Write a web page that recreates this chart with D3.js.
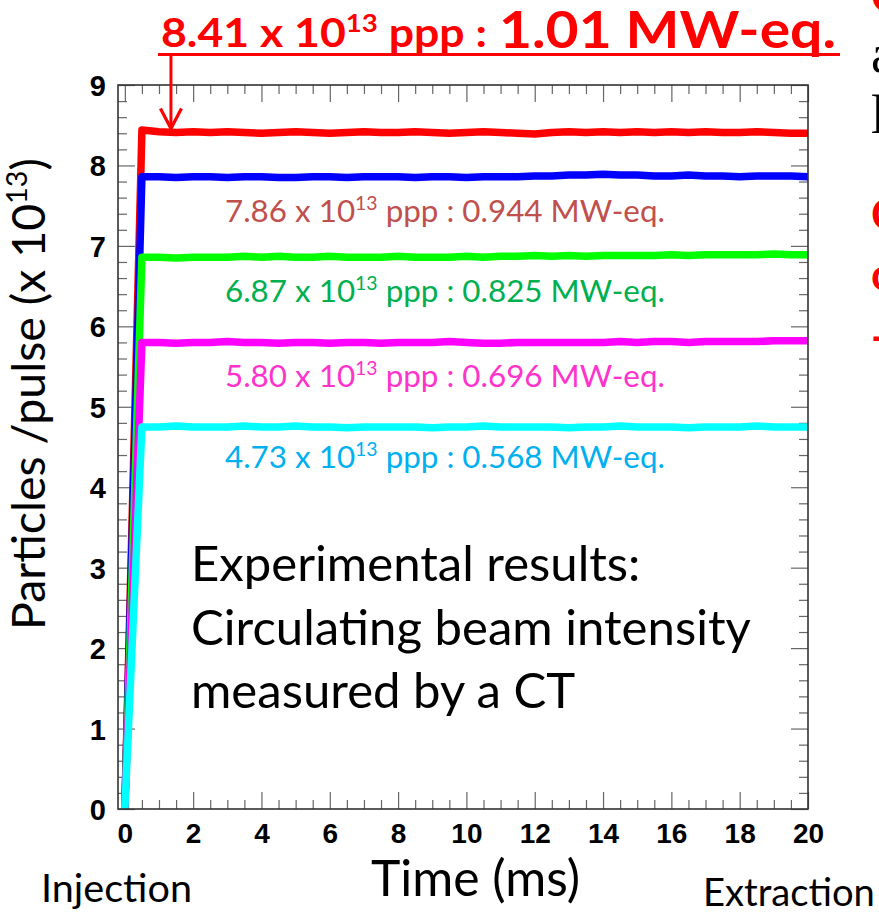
<!DOCTYPE html>
<html>
<head>
<meta charset="utf-8">
<script src="https://cdn.jsdelivr.net/npm/d3@7"></script>
<style>
  html, body { margin: 0; padding: 0; background: #fff; overflow: hidden; }
  svg { display: block; }
</style>
</head>
<body>
<svg id="chart" width="879" height="922"></svg>
<script>
// Circulating beam intensity vs time, one trace per beam power setting
const timeMs = [0, 0.5, 1, 1.5, 2, 2.5, 3, 3.5, 4, 4.5, 5, 5.5, 6, 6.5, 7, 7.5, 8, 8.5, 9, 9.5,
  10, 10.5, 11, 11.5, 12, 12.5, 13, 13.5, 14, 14.5, 15, 15.5, 16, 16.5, 17, 17.5, 18, 18.5, 19, 19.5, 20];

const trace841 = [0, 8.44, 8.42, 8.41, 8.42, 8.41, 8.42, 8.41, 8.40, 8.41,
  8.42, 8.41, 8.40, 8.41, 8.42, 8.41, 8.41, 8.42, 8.41, 8.40,
  8.41, 8.42, 8.41, 8.40, 8.39, 8.41, 8.42, 8.41, 8.42, 8.41,
  8.42, 8.41, 8.42, 8.41, 8.42, 8.41, 8.41, 8.42, 8.41, 8.40, 8.40];
const trace786 = [0, 7.86, 7.86, 7.85, 7.86, 7.86, 7.85, 7.86, 7.86, 7.85,
  7.85, 7.86, 7.86, 7.85, 7.86, 7.86, 7.86, 7.85, 7.86, 7.86,
  7.85, 7.86, 7.86, 7.86, 7.87, 7.87, 7.88, 7.88, 7.89, 7.88,
  7.88, 7.87, 7.87, 7.88, 7.87, 7.87, 7.86, 7.87, 7.87, 7.87, 7.86];
const trace687 = [0, 6.86, 6.86, 6.85, 6.86, 6.86, 6.86, 6.87, 6.86, 6.87,
  6.86, 6.86, 6.87, 6.86, 6.86, 6.86, 6.87, 6.86, 6.86, 6.86,
  6.87, 6.86, 6.87, 6.87, 6.88, 6.87, 6.88, 6.87, 6.88, 6.88,
  6.88, 6.88, 6.89, 6.88, 6.89, 6.89, 6.89, 6.89, 6.90, 6.89, 6.89];
const trace580 = [0, 5.80, 5.80, 5.79, 5.80, 5.80, 5.81, 5.80, 5.80, 5.79,
  5.80, 5.80, 5.79, 5.80, 5.80, 5.79, 5.80, 5.80, 5.80, 5.81,
  5.80, 5.79, 5.79, 5.80, 5.80, 5.80, 5.80, 5.80, 5.80, 5.81,
  5.80, 5.81, 5.81, 5.80, 5.81, 5.81, 5.81, 5.81, 5.82, 5.82, 5.82];
const trace473 = [0, 4.75, 4.75, 4.76, 4.75, 4.75, 4.75, 4.76, 4.75, 4.75,
  4.76, 4.75, 4.75, 4.74, 4.75, 4.75, 4.75, 4.75, 4.74, 4.75,
  4.75, 4.76, 4.75, 4.75, 4.75, 4.75, 4.74, 4.75, 4.75, 4.76,
  4.75, 4.75, 4.75, 4.74, 4.75, 4.75, 4.75, 4.76, 4.75, 4.75, 4.75];

const traceColors = ["#ff0000", "#0000ff", "#00ff00", "#ff00ff", "#00ffff"];
const intensities = ["8.41", "7.86", "6.87", "5.80", "4.73"];
const powers = ["1.01", "0.944", "0.825", "0.696", "0.568"];
const labelColors = ["#ff0000", "#c0504d", "#00b050", "#ff33cc", "#00b0f0"];

const xTicks = [0, 2, 4, 6, 8, 10, 12, 14, 16, 18, 20];
const yTicks = [0, 1, 2, 3, 4, 5, 6, 7, 8, 9];
const noteLines = ["Experimental results:", "Circulating beam intensity", "measured by a CT"];

const svg = d3.select("#chart");
const W = 879, H = 922;
svg.append("rect").attr("width", W).attr("height", H).attr("fill", "#fff");

const plot = { left: 118, right: 808, top: 85, bottom: 809 };
const x = d3.scaleLinear().domain([-0.2, 20]).range([plot.left, plot.right]);
const y = d3.scaleLinear().domain([0, 9]).range([plot.bottom, plot.top]);

const SANS = "Lato, 'Open Sans', sans-serif";
const TICKFONT = "'Liberation Sans', Arial, sans-serif";

// scale a text element's font-size so it spans the given width
function fitWidth(sel, width) {
  const node = sel.node();
  const fs = parseFloat(sel.attr("font-size"));
  const w = node.getComputedTextLength();
  sel.attr("font-size", (fs * width / w).toFixed(2));
}

// value text with superscript exponent: "<v> x 10^13 ppp : "
function addPpp(textSel, value) {
  textSel.append("tspan").text(value + " x 10");
  textSel.append("tspan").style("font-size", "0.62em").attr("dy", "-0.62em").text("13");
  textSel.append("tspan").attr("dy", "0.385em").text(" ppp : ");
}

// ---- axes (ticks inside on all four sides) ----
const xMinor = d3.range(0, 20.001, 0.5).filter(v => v % 2 !== 0);
const yMinor = d3.range(0, 9.001, 0.2).filter(v => Math.abs(v - Math.round(v)) > 1e-6);

function tickGroup(axis, transform) {
  const g = svg.append("g").attr("transform", transform).call(axis);
  g.select(".domain").remove();
  g.selectAll(".tick line").attr("stroke", "#666").attr("stroke-width", 1.2);
  return g;
}

tickGroup(d3.axisBottom(x).tickValues(xMinor).tickSize(-9).tickFormat(""), `translate(0,${plot.bottom})`);
tickGroup(d3.axisTop(x).tickValues(xMinor).tickSize(-9).tickFormat(""), `translate(0,${plot.top})`);
tickGroup(d3.axisLeft(y).tickValues(yMinor).tickSize(-9).tickFormat(""), `translate(${plot.left},0)`);
tickGroup(d3.axisRight(y).tickValues(yMinor).tickSize(-9).tickFormat(""), `translate(${plot.right},0)`);
tickGroup(d3.axisTop(x).tickValues(xTicks).tickSize(-17).tickFormat(""), `translate(0,${plot.top})`);
tickGroup(d3.axisRight(y).tickValues(yTicks).tickSize(-17).tickFormat(""), `translate(${plot.right},0)`);

const xAxis = tickGroup(d3.axisBottom(x).tickValues(xTicks).tickSize(-17).tickPadding(0).tickFormat(d3.format("d")),
  `translate(0,${plot.bottom})`);
xAxis.selectAll(".tick text")
  .attr("y", 34).attr("dy", 0)
  .attr("font-family", TICKFONT).attr("font-weight", "bold").attr("font-size", 28).attr("fill", "#000");

const yAxis = tickGroup(d3.axisLeft(y).tickValues(yTicks).tickSize(-17).tickPadding(0).tickFormat(d3.format("d")),
  `translate(${plot.left},0)`);
yAxis.selectAll(".tick text")
  .attr("x", -12).attr("dy", "0.36em")
  .attr("font-family", TICKFONT).attr("font-weight", "bold").attr("font-size", 29).attr("fill", "#000");

// ---- traces ----
svg.append("clipPath").attr("id", "plotClip")
  .append("rect").attr("x", plot.left).attr("y", plot.top)
  .attr("width", plot.right - plot.left).attr("height", plot.bottom - plot.top);

const series = [trace841, trace786, trace687, trace580, trace473];
const line = d3.line().x((d, i) => x(timeMs[i])).y(d => y(d));
svg.append("g").attr("clip-path", "url(#plotClip)")
  .selectAll("path").data(series).join("path")
  .attr("d", line)
  .attr("fill", "none")
  .attr("stroke", (d, i) => traceColors[i])
  .attr("stroke-width", 7.5)
  .attr("stroke-linejoin", "round")
  .attr("stroke-linecap", "round");

// frame
svg.append("rect")
  .attr("x", plot.left).attr("y", plot.top)
  .attr("width", plot.right - plot.left).attr("height", plot.bottom - plot.top)
  .attr("fill", "none").attr("stroke", "#333").attr("stroke-width", 1.6);

// ---- per-trace labels ----
const labelBaselines = [null, 222, 302, 387, 468];
for (let i = 1; i < intensities.length; i++) {
  const t = svg.append("text")
    .attr("x", 225).attr("y", labelBaselines[i])
    .attr("font-family", SANS).attr("font-size", 30).attr("fill", labelColors[i]);
  addPpp(t, intensities[i]);
  t.append("tspan").attr("dy", 0).text(powers[i] + " MW-eq.");
  fitWidth(t, 440);
}

// ---- headline for the highest-intensity trace ----
const head = svg.append("text")
  .attr("x", 161).attr("y", 47)
  .attr("font-family", SANS).attr("font-weight", "bold").attr("font-size", 40)
  .attr("fill", labelColors[0])
  .attr("textLength", 326).attr("lengthAdjust", "spacingAndGlyphs");
addPpp(head, intensities[0]);
svg.append("text")
  .attr("x", 499).attr("y", 48)
  .attr("font-family", SANS).attr("font-weight", "bold").attr("font-size", 52)
  .attr("fill", labelColors[0])
  .attr("textLength", 337).attr("lengthAdjust", "spacingAndGlyphs")
  .text(powers[0] + " MW-eq.");

svg.append("line")
  .attr("x1", 158).attr("x2", 840).attr("y1", 54.5).attr("y2", 54.5)
  .attr("stroke", "#ff0000").attr("stroke-width", 3);

// arrow from headline down to the top trace
const arrowX = x(1.35);
const arrowTip = y(trace841[3]) - 4;
svg.append("line")
  .attr("x1", arrowX).attr("x2", arrowX).attr("y1", 54).attr("y2", arrowTip)
  .attr("stroke", "#ff0000").attr("stroke-width", 3);
svg.append("path")
  .attr("d", `M${arrowX - 10.5},${arrowTip - 20} L${arrowX},${arrowTip} L${arrowX + 10.5},${arrowTip - 20}`)
  .attr("fill", "none").attr("stroke", "#ff0000").attr("stroke-width", 3.2);

// ---- note inside the plot ----
const noteSize = 44;
const noteBaselines = [581, 645, 708];
const noteTexts = noteLines.map((s, i) => svg.append("text")
  .attr("x", 191).attr("y", noteBaselines[i])
  .attr("font-family", SANS).attr("font-size", noteSize).attr("fill", "#000").text(s));
{
  const w = noteTexts[1].node().getComputedTextLength();
  const fs = noteSize * 560 / w;
  noteTexts.forEach(t => t.attr("font-size", fs.toFixed(2)));
}

// ---- axis titles ----
const yTitle = svg.append("text")
  .attr("transform", "translate(45,394) rotate(-90)")
  .attr("text-anchor", "middle")
  .attr("font-family", SANS).attr("font-size", 36).attr("fill", "#000");
yTitle.append("tspan").text("Particles /pulse (x 10");
yTitle.append("tspan").style("font-size", "0.62em").attr("dy", "-0.62em").text("13");
yTitle.append("tspan").attr("dy", "0.385em").text(")");
fitWidth(yTitle, 472);

const xTitle = svg.append("text")
  .attr("x", 371).attr("y", 896)
  .attr("font-family", SANS).attr("font-size", 50).attr("fill", "#000").text("Time (ms)");
fitWidth(xTitle, 209);

const inj = svg.append("text")
  .attr("x", 41).attr("y", 902)
  .attr("font-family", SANS).attr("font-size", 40).attr("fill", "#000").text("Injection");
fitWidth(inj, 151);

const ext = svg.append("text")
  .attr("x", 703).attr("y", 906)
  .attr("font-family", SANS).attr("font-size", 40).attr("fill", "#000").text("Extraction");
fitWidth(ext, 172);

// ---- neighbouring slide text running off the right edge ----
svg.append("text").attr("x", 871).attr("y", 72)
  .attr("font-family", "'Liberation Serif', serif").attr("font-size", 54).attr("fill", "#000").text("a");
svg.append("text").attr("x", 871).attr("y", 133)
  .attr("font-family", "'Liberation Serif', serif").attr("font-size", 54).attr("fill", "#000").text("l");
svg.append("text").attr("x", 871).attr("y", 12)
  .attr("font-family", SANS).attr("font-weight", "bold").attr("font-size", 44).attr("fill", "#ff0000").text("C");
svg.append("text").attr("x", 871).attr("y", 230)
  .attr("font-family", SANS).attr("font-weight", "bold").attr("font-size", 44).attr("fill", "#ff0000").text("C");
svg.append("text").attr("x", 871).attr("y", 290)
  .attr("font-family", SANS).attr("font-weight", "bold").attr("font-size", 44).attr("fill", "#ff0000").text("c");
svg.append("text").attr("x", 871).attr("y", 352)
  .attr("font-family", SANS).attr("font-weight", "bold").attr("font-size", 44).attr("fill", "#ff0000").text("-");
</script>
</body>
</html>
